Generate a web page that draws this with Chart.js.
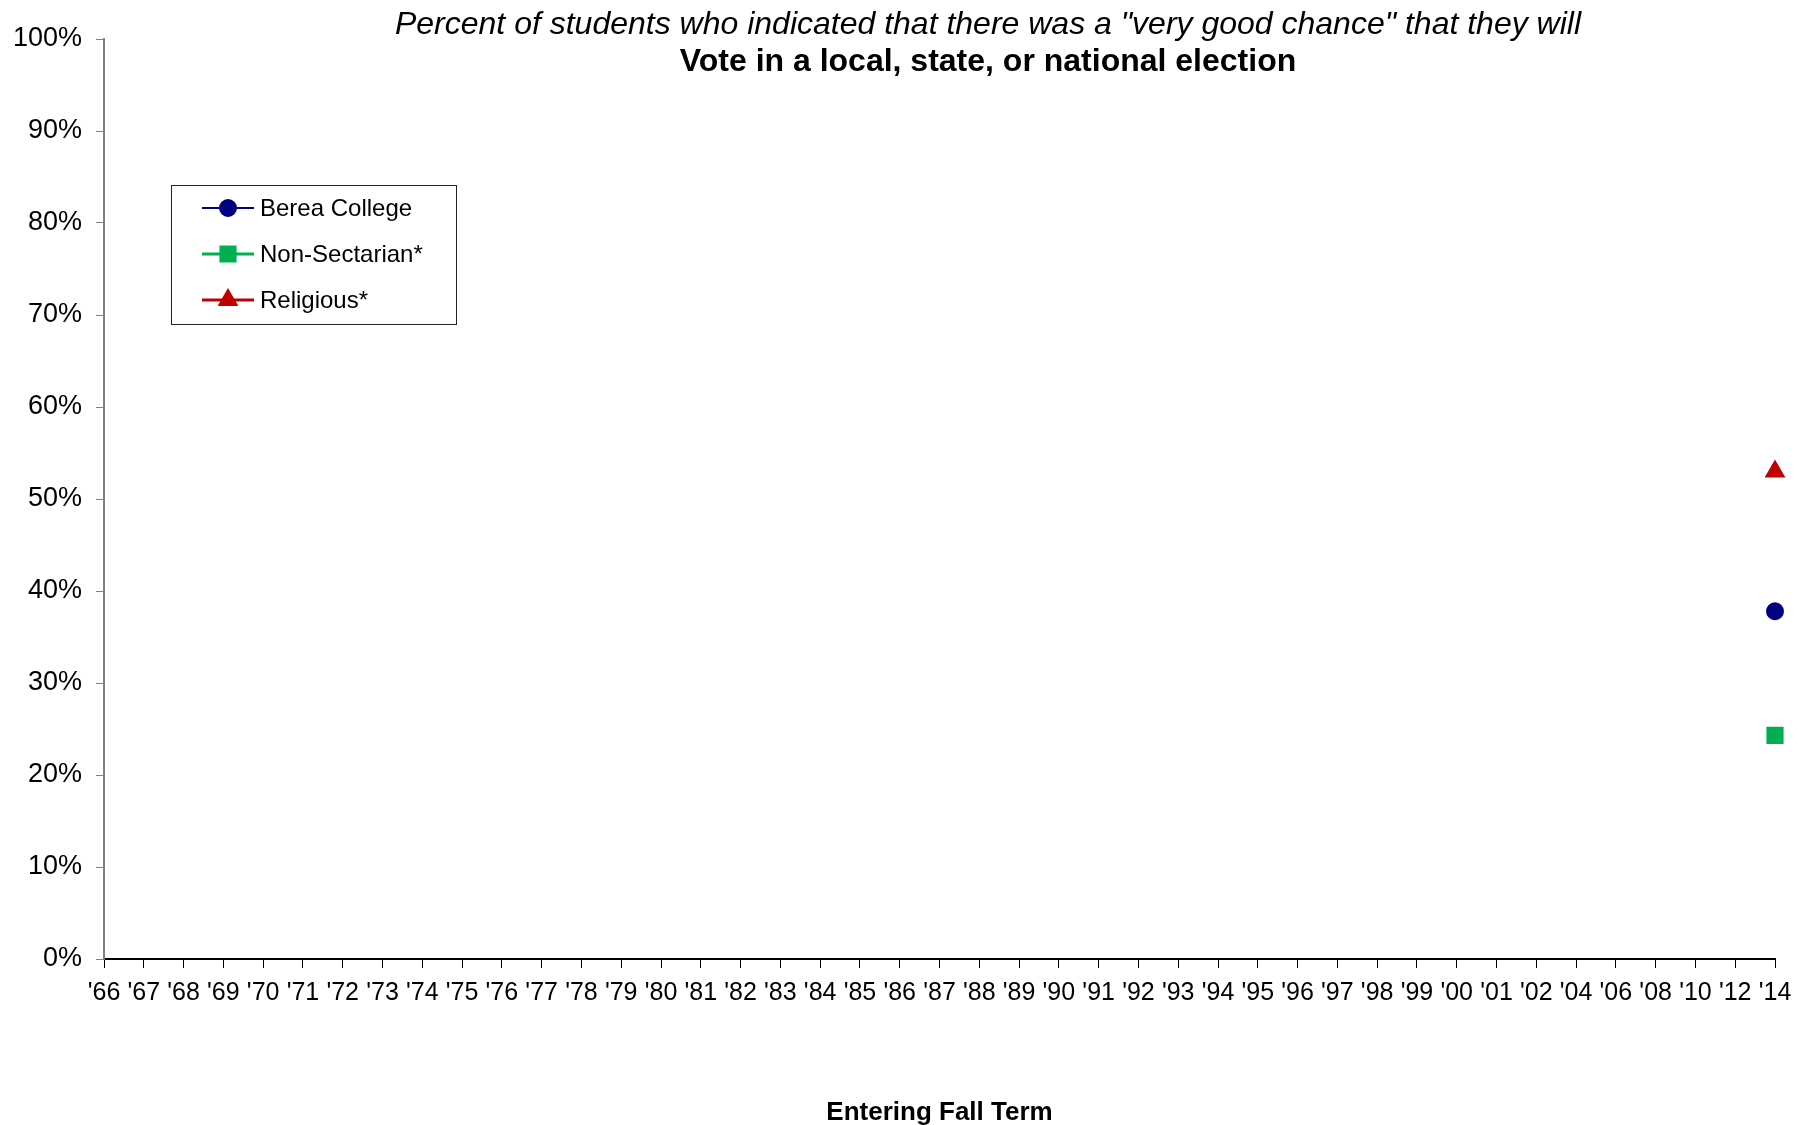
<!DOCTYPE html>
<html>
<head>
<meta charset="utf-8">
<script src="https://cdn.jsdelivr.net/npm/chart.js@4.4.0/dist/chart.umd.min.js"></script>
<style>
  html, body { margin: 0; padding: 0; background: #fff; }
  #wrap { width: 1812px; height: 1125px; }
</style>
</head>
<body>
<div id="wrap"><canvas id="chart"></canvas></div>
<script>
// 年份标签
const years = ["'66", "'67", "'68", "'69", "'70", "'71", "'72", "'73", "'74", "'75",
    "'76", "'77", "'78", "'79", "'80", "'81", "'82", "'83", "'84", "'85",
    "'86", "'87", "'88", "'89", "'90", "'91", "'92", "'93", "'94", "'95",
    "'96", "'97", "'98", "'99", "'00", "'01", "'02", "'04", "'06", "'08",
    "'10", "'12", "'14"];

// 各组数值（只有 '14 有数据）
const bereaCollege = [null, null, null, null, null, null, null, null, null, null,
    null, null, null, null, null, null, null, null, null, null,
    null, null, null, null, null, null, null, null, null, null,
    null, null, null, null, null, null, null, null, null, null,
    null, null, 0.378];
const nonSectarian = [null, null, null, null, null, null, null, null, null, null,
    null, null, null, null, null, null, null, null, null, null,
    null, null, null, null, null, null, null, null, null, null,
    null, null, null, null, null, null, null, null, null, null,
    null, null, 0.243];
const religious = [null, null, null, null, null, null, null, null, null, null,
    null, null, null, null, null, null, null, null, null, null,
    null, null, null, null, null, null, null, null, null, null,
    null, null, null, null, null, null, null, null, null, null,
    null, null, 0.530];

const titleLine1 = 'Percent of students who indicated that there was a "very good chance" that they will';
const titleLine2 = 'Vote in a local, state, or national election';

const FONT = '"Liberation Sans", Arial, sans-serif';

// 标题和图例自己画
const decorPlugin = {
    id: 'decor',
    afterDraw(chart) {
        const ctx = chart.ctx;
        ctx.save();
        ctx.fillStyle = '#000';
        ctx.textAlign = 'center';
        ctx.textBaseline = 'middle';
        ctx.font = 'italic 32px ' + FONT;
        ctx.fillText(titleLine1, 988, 25);
        ctx.font = 'bold 32px ' + FONT;
        ctx.fillText(titleLine2, 988, 62);

        // 图例框
        ctx.strokeStyle = '#222';
        ctx.lineWidth = 1;
        ctx.strokeRect(171.5, 185.5, 285, 139);
        ctx.font = '24px ' + FONT;
        ctx.textAlign = 'left';
        chart.data.datasets.forEach((ds, i) => {
            const y = 208 + i * 46;
            ctx.strokeStyle = ds.borderColor;
            ctx.lineWidth = ds.borderWidth;
            ctx.beginPath();
            ctx.moveTo(202, y);
            ctx.lineTo(254, y);
            ctx.stroke();
            Chart.helpers.drawPoint(ctx, {
                pointStyle: ds.pointStyle,
                radius: ds.pointRadius,
                borderWidth: 1
            }, 228, y);
            ctx.fillStyle = ds.backgroundColor;
            ctx.fill();
            ctx.fillStyle = '#000';
            ctx.fillText(ds.label, 260, y + 1);
        });
        ctx.restore();
    }
};

const ctx = document.getElementById('chart').getContext('2d');
new Chart(ctx, {
    type: 'line',
    data: {
        labels: years,
        datasets: [{
            label: 'Berea College',
            data: bereaCollege,
            borderColor: '#000080',
            backgroundColor: '#000080',
            borderWidth: 2,
            pointStyle: 'circle',
            pointRadius: 8
        }, {
            label: 'Non-Sectarian*',
            data: nonSectarian,
            borderColor: '#00B050',
            backgroundColor: '#00B050',
            borderWidth: 3,
            pointStyle: 'rect',
            pointRadius: 10
        }, {
            label: 'Religious*',
            data: religious,
            borderColor: '#C00000',
            backgroundColor: '#C00000',
            borderWidth: 3,
            pointStyle: 'triangle',
            pointRadius: 9
        }]
    },
    options: {
        responsive: true,
        maintainAspectRatio: false,
        animation: false,
        spanGaps: false,
        layout: { padding: { top: 39, right: 37, left: 0, bottom: 0 } },
        plugins: {
            legend: { display: false },
            title: { display: false },
            tooltip: { enabled: false }
        },
        scales: {
            x: {
                offset: false,
                grid: {
                    drawOnChartArea: false,
                    drawTicks: true,
                    tickLength: 9,
                    color: '#000',
                    offset: false
                },
                border: { color: '#000', width: 2 },
                ticks: {
                    autoSkip: false,
                    maxRotation: 0,
                    minRotation: 0,
                    color: '#000',
                    padding: 10,
                    font: { family: FONT, size: 25 }
                },
                title: {
                    display: true,
                    text: 'Entering Fall Term',
                    color: '#000',
                    padding: { top: 0, bottom: -3 },
                    font: { family: FONT, size: 26, weight: 'bold' }
                },
                afterFit(scale) { scale.height = 166; }
            },
            y: {
                min: 0,
                max: 1,
                grid: {
                    drawOnChartArea: false,
                    drawTicks: true,
                    tickLength: 8,
                    color: '#808080'
                },
                border: { color: '#808080', width: 2 },
                ticks: {
                    stepSize: 0.1,
                    color: '#000',
                    padding: 14,
                    font: { family: FONT, size: 27 },
                    callback: v => Math.round(v * 100) + '%'
                },
                afterFit(scale) { scale.width = 104; }
            }
        }
    },
    plugins: [decorPlugin]
});
</script>
</body>
</html>
